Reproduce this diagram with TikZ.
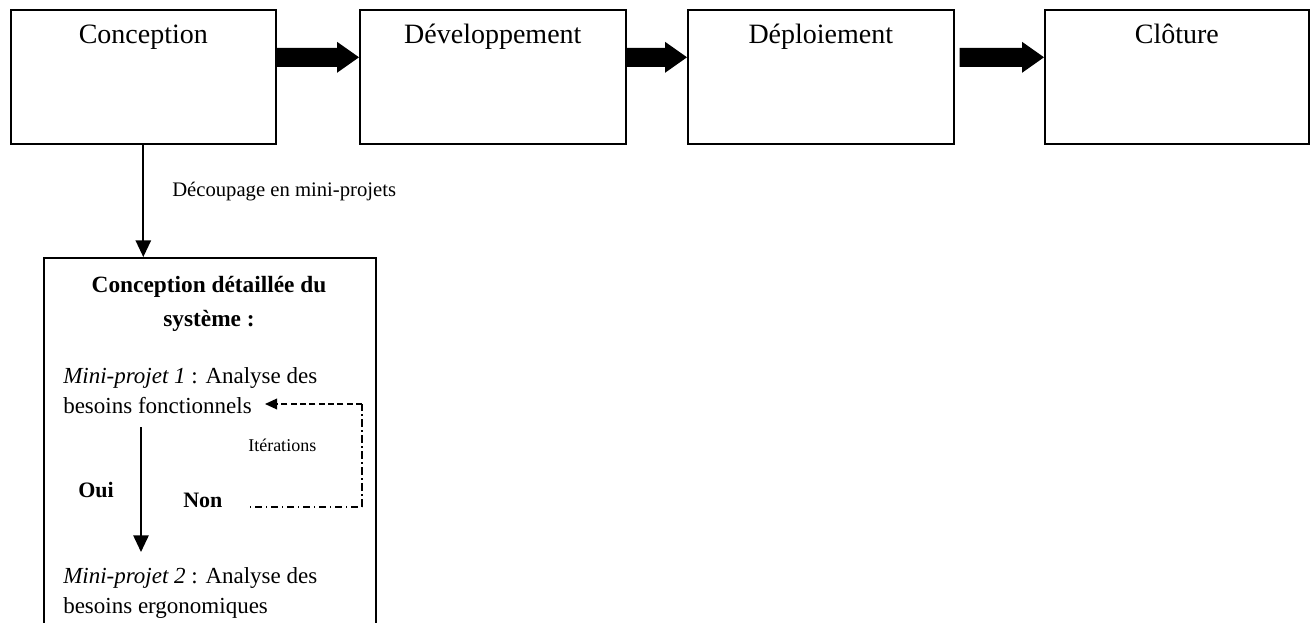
\documentclass[tikz,border=0pt]{standalone}
\usepackage{fontspec}
\setmainfont{Liberation Serif}
\usetikzlibrary{calc,arrows.meta}
\newcommand\fatarrow[3]{\fill ($(#1.east)+(#3,-29)$) -- ($(#2.west)+(-22,-29)$) -- ($(#2.west)+(-22,-35)$) -- ($(#2.west)+(0,-19.5)$) -- ($(#2.west)+(-22,-4)$) -- ($(#2.west)+(-22,-10)$) -- ($(#1.east)+(#3,-10)$) -- cycle;}
\tikzset{
  box/.style={draw, line width=1.2pt, inner sep=0pt, anchor=north west, minimum height=100.5pt},
  ttl/.style={anchor=base, inner sep=0pt, font=\fontsize{21}{24}\selectfont},
  txt/.style={anchor=base west, inner sep=0pt, font=\fontsize{17.25}{20}\selectfont},
  lbl/.style={anchor=base west, inner sep=0pt, font=\fontsize{15.5}{18}\selectfont},
  small/.style={anchor=base west, inner sep=0pt, font=\fontsize{13.5}{16}\selectfont},
  arr/.style={line width=1.3pt, -{Triangle[length=12.5pt,width=11.5pt]}},
}
\begin{document}
\begin{tikzpicture}[x=0.75pt,y=-0.75pt]
\useasboundingbox (0,0) rectangle (1312,623);
\clip (0,0) rectangle (1312,623);
\fill[white] (0,0) rectangle (1312,623);
% top boxes
\node[box, minimum width=198.75pt] (conc) at (10,9) {};
\node[box, minimum width=199.5pt] (dev) at (359,9) {};
\node[box, minimum width=199.5pt] (depl) at (687,9) {};
\node[box, minimum width=198pt] (clot) at (1044,9) {};
\node[ttl] (tconc) at ($(conc.north)+(0,35)$) {Conception};
\node[ttl] (tdev) at ($(dev.north)+(0,35)$) {Développement};
\node[ttl] (tdepl) at ($(depl.north)+(0,35)$) {Déploiement};
\node[ttl] (tclot) at ($(clot.north)+(0,35)$) {Clôture};
% fat arrows
\fatarrow{conc}{dev}{0}
\fatarrow{dev}{depl}{0}
\fatarrow{depl}{clot}{5}
% detail box
\node[box, minimum width=249pt, minimum height=300pt] (det) at (43,257) {};
\draw[arr] (conc.south) -- (conc.south |- det.north);
\node[lbl] (dec) at (172,197) {Découpage en mini-projets};
% detail contents
\node[txt, anchor=base, font=\fontsize{17.5}{20}\selectfont\bfseries] (d1) at (209,292) {Conception détaillée du};
\node[txt, anchor=base, font=\fontsize{17.5}{20}\selectfont\bfseries] (d2) at (209,326) {système :};
\node[txt] (m1a) at (63,383) {\textit{Mini-projet 1} : Analyse des};
\node[txt] (m1b) at (63,413) {besoins fonctionnels};
\node[txt] (m2a) at (63,583) {\textit{Mini-projet 2} : Analyse des};
\node[txt] (m2b) at (63,613) {besoins ergonomiques};
\node[small] (it) at (248,451) {Itérations};
\node[txt, font=\fontsize{16.5}{20}\selectfont\bfseries] (oui) at (78,497) {Oui};
\node[txt, font=\fontsize{16.5}{20}\selectfont\bfseries] (non) at (183,507) {Non};
% yes arrow
\coordinate (ya) at (141,427);
\coordinate (yb) at (141,552);
\draw[arr] (ya) -- (yb);
% iteration loop
\coordinate (l1) at (250,507);
\coordinate (l2) at (362,507);
\coordinate (l3) at (362,404);
\coordinate (l4) at (265,404);
\draw[line width=1pt, dash pattern=on 1pt off 3pt on 5pt off 3pt] (l1) -- (l2);
\draw[line width=1pt, dash pattern=on 6pt off 2.5pt on 1pt off 2.5pt] (l2) -- (l3);
\draw[line width=1pt, dash pattern=on 4.5pt off 2.5pt, -{Triangle[length=9pt,width=8pt]}] (l3) -- (l4);
\end{tikzpicture}
\end{document}
